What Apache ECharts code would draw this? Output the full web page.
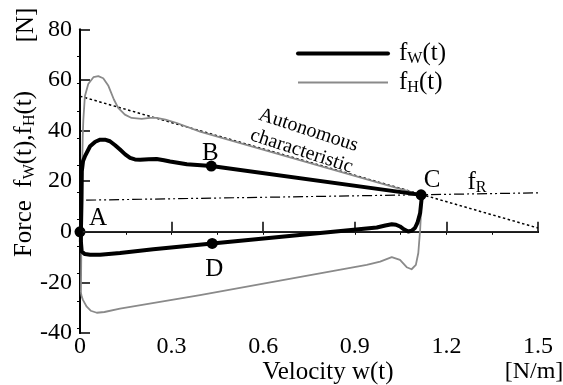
<!DOCTYPE html>
<html><head><meta charset="utf-8">
<script src="https://cdn.jsdelivr.net/npm/echarts@6/dist/echarts.min.js"></script>
<style>html,body{margin:0;padding:0;background:#fff}#c{width:563px;height:385px}</style>
</head><body><div id="c"></div>
<script>
// ---- data ----
const fW = [[0.003,0],[0.005,12.7],[0.006,24],[0.01,28],[0.016,29.8],[0.033,33.8],[0.05,35.6],[0.066,36.4],[0.082,36.4],[0.098,35.8],[0.115,34.2],[0.131,32.5],[0.148,30.6],[0.164,29.2],[0.18,28.6],[0.197,28.5],[0.225,28.7],[0.251,28.8],[0.275,28.3],[0.295,27.8],[0.35,26.7],[0.43,26.0],[1.117,14.6],[1.119,13.3],[1.114,7.4],[1.105,3.5],[1.097,1.5],[1.086,0.4],[1.075,0.1],[1.062,0.9],[1.048,2.1],[1.035,2.8],[1.021,3],[1.0,2.5],[0.972,1.7],[0.433,-4.6],[0.24,-6.9],[0.131,-8.4],[0.066,-9.1],[0.033,-9.1],[0.016,-8.8],[0.0056,-7.8],[0.003,-4],[0.003,0]];
const fH = [[0.003,-24],[0.005,0],[0.007,25],[0.009,38],[0.011,44.4],[0.016,53.6],[0.027,58.4],[0.044,61.1],[0.06,61.5],[0.076,60.7],[0.093,57.7],[0.111,52.3],[0.125,49],[0.147,46.3],[0.169,45],[0.202,44.6],[0.229,45],[0.251,45],[0.28,44.3],[0.317,43],[0.393,39.6],[1.117,14.6],[1.119,12.7],[1.114,0.8],[1.108,-8.4],[1.1,-13.1],[1.086,-14.8],[1.07,-14],[1.048,-11.1],[1.021,-10],[0.983,-11.8],[0.939,-13.1],[0.393,-25],[0.131,-30.4],[0.08,-31.7],[0.055,-32],[0.035,-31.2],[0.022,-29.6],[0.01,-27],[0.0056,-25.6],[0.003,-24]];
const autonomous = [[0,53.6],[1.5,1.5]];
const fR = [[0.02,12.5],[1.5,15.4]];
const zeroLine = [[0,0],[1.5,0]];
const pointNames = ['A','B','C','D'];
const pointX = [0, 0.43, 1.117, 0.433];
const pointY = [0, 26.0, 14.6, -4.6];
const annotPos = { fR: [1.30, 19.4], autonomous: [0.737, 36.0] };
const xRange = [0, 1.5], xStep = 0.3;
const yRange = [-40, 80], yStep = 20;
const topTicks = [0.15,0.3,0.45,0.6,0.75,0.9,1.05,1.2,1.35];
const rightTicks = [69.27,58.54,47.81,37.08,26.35,15.62,4.89,-5.84,-16.57,-27.3,-38.03];

// ---- styles ----
const FF = '"Liberation Serif", "Times New Roman", serif';
const labelOffsets = { A:[18,-13], B:[-1,-13], C:[11,-14], D:[2,26] };
const richSub = {
  m: { fontFamily: FF, fontSize: 25, color: '#000' },
  s: { fontFamily: FF, fontSize: 16, color: '#000', padding: [11,0,0,0] }
};

const chart = echarts.init(document.getElementById('c'), null, { renderer: 'canvas' });
const axisLine = { show: true, lineStyle: { color: '#000', width: 2 } };
chart.setOption({
  animation: false,
  backgroundColor: '#fff',
  grid: { left: 80, top: 29.4, width: 458, height: 303.6 },
  xAxis: [
    { type: 'value', position: 'bottom', min: xRange[0], max: xRange[1], interval: xStep,
      axisLine, splitLine: { show: false },
      axisTick: { inside: true, length: 10, lineStyle: { color: '#000', width: 1.5 } },
      axisLabel: { margin: 2, fontFamily: FF, fontSize: 24, color: '#000' } },
    { type: 'value', position: 'top', min: xRange[0], max: xRange[1],
      axisLine, splitLine: { show: false },
      axisTick: { inside: true, length: 3, customValues: topTicks, lineStyle: { color: '#000', width: 1 } },
      axisLabel: { show: false } }
  ],
  yAxis: [
    { type: 'value', position: 'left', min: yRange[0], max: yRange[1], interval: yStep,
      axisLine, splitLine: { show: false },
      axisTick: { inside: true, length: 10, lineStyle: { color: '#000', width: 1.5 } },
      axisLabel: { margin: 8, fontFamily: FF, fontSize: 24, color: '#000' } },
    { type: 'value', position: 'right', min: yRange[0], max: yRange[1],
      axisLine, splitLine: { show: false },
      axisTick: { inside: true, length: 3, customValues: rightTicks, lineStyle: { color: '#000', width: 1 } },
      axisLabel: { show: false } }
  ],
  legend: {
    orient: 'vertical', left: 291, top: 36, itemWidth: 90, itemHeight: 14, itemGap: 3,
    data: [ { name: 'fW', lineStyle: { width: 4, color: '#000' } },
            { name: 'fH', lineStyle: { width: 1.8, color: '#8a8a8a' } } ],
    itemStyle: { opacity: 0 },
    formatter: n => n === 'fW' ? '{m|f}{s|W}{m|(t)}' : '{m|f}{s|H}{m|(t)}',
    textStyle: { rich: richSub, padding: [0,0,0,6] }
  },
  series: [
    { type: 'line', name: 'zero', data: zeroLine, symbol: 'none', silent: true,
      lineStyle: { color: '#333', width: 1.3 } },
    { type: 'line', name: 'auto', data: autonomous, symbol: 'none', silent: true,
      lineStyle: { color: '#000', width: 1.5, type: [2.5, 2.5] } },
    { type: 'line', name: 'fR', data: fR, symbol: 'none', silent: true,
      lineStyle: { color: '#000', width: 1.2, type: [10, 3, 2, 3, 2, 3] } },
    { type: 'line', name: 'fH', data: fH, symbol: 'none', silent: true,
      lineStyle: { color: '#8a8a8a', width: 1.8, join: 'round' }, itemStyle: { color: '#8a8a8a' } },
    { type: 'line', name: 'fW', data: fW, symbol: 'none', silent: true,
      lineStyle: { color: '#000', width: 4, join: 'round', cap: 'round' }, itemStyle: { color: '#000' } },
    { type: 'scatter', name: 'pts', symbol: 'circle', symbolSize: 11, silent: true,
      itemStyle: { color: '#000', opacity: 1 },
      data: pointNames.map((n, i) => ({ name: n, value: [pointX[i], pointY[i]],
        label: { show: true, formatter: n, offset: labelOffsets[n], position: 'inside',
          fontFamily: FF, fontSize: 25, color: '#000' } })) },
    { type: 'scatter', name: 'annot', symbolSize: 0, silent: true, itemStyle: { opacity: 1 },
      data: [
        { value: annotPos.fR, label: { show: true, position: 'inside', formatter: '{m|f}{s|R}', rich: richSub } },
        { value: annotPos.autonomous, label: { show: true, position: 'inside', rotate: -18,
            formatter: 'Autonomous\ncharacteristic', fontFamily: FF, fontSize: 20, lineHeight: 22, align: 'center', color: '#000' } }
      ] }
  ],
  graphic: [
    { type: 'text', x: 26, y: 25, rotation: Math.PI / 2,
      style: { text: '[N]', font: '25px ' + FF, fill: '#000', align: 'center', verticalAlign: 'middle' } },
    { type: 'text', x: 24, y: 174, rotation: Math.PI / 2,
      style: { text: '{m|Force  f}{s|W}{m|(t),f}{s|H}{m|(t)}', rich: richSub, align: 'center', verticalAlign: 'middle' } },
    { type: 'text', x: 328, y: 372,
      style: { text: 'Velocity w(t)', font: '25px ' + FF, fill: '#000', align: 'center', verticalAlign: 'middle' } },
    { type: 'text', x: 534, y: 372,
      style: { text: '[N/m]', font: '24px ' + FF, fill: '#000', align: 'center', verticalAlign: 'middle' } }
  ]
});
</script></body></html>
